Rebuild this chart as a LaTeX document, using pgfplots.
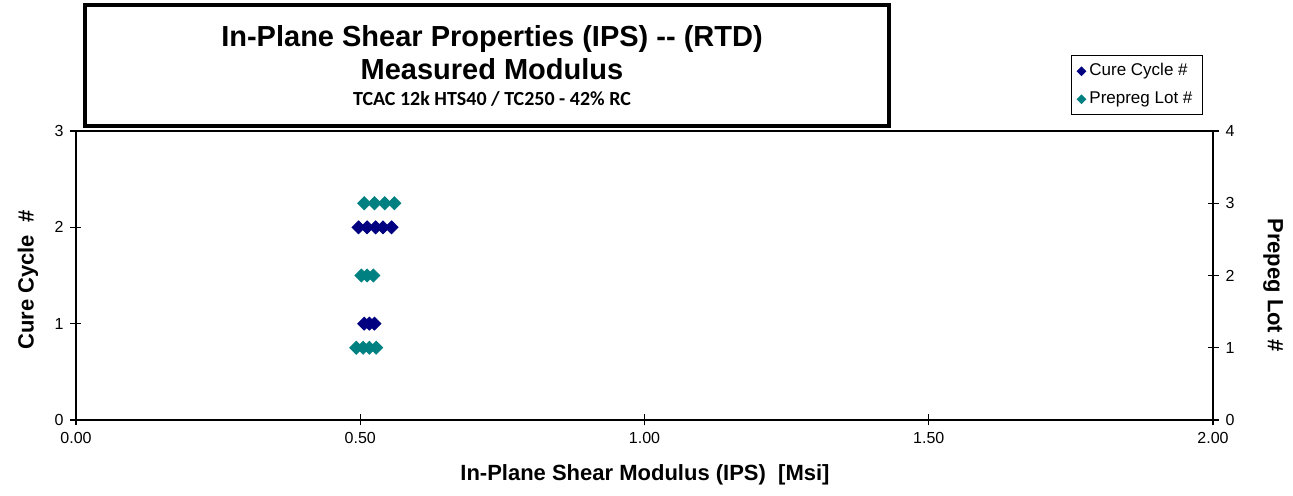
\documentclass[border=0pt]{standalone}
\usepackage{fontspec}
\setmainfont{Liberation Sans}
\newfontfamily\calibri{Carlito}
\usepackage{pgfplots}
\pgfplotsset{compat=1.18}
\definecolor{cure}{RGB}{0,0,128}
\definecolor{lot}{RGB}{0,128,128}

% values: modulus [Msi] vs cure cycle / prepreg lot
\pgfplotstableread{
x y
0.497 2
0.512 2
0.527 2
0.540 2
0.555 2
0.507 1
0.516 1
0.525 1
}\curetab
\pgfplotstableread{
x y
0.507 3
0.525 3
0.543 3
0.560 3
0.502 2
0.512 2
0.523 2
0.493 1
0.505 1
0.516 1
0.528 1
}\lottab

\begin{document}
\begin{tikzpicture}
\useasboundingbox (-38pt,-38pt) rectangle (608.5pt,210pt);
\pgfplotsset{
  common/.style={
    width=568.5pt, height=144.5pt, scale only axis,
    xmin=0, xmax=2,
    axis line style={-, line width=0.9pt},
    tick align=center, major tick length=5.5pt,
    tick style={black, line width=0.6pt},
    ticklabel style={font=\fontsize{8}{9.5}\selectfont},
    /pgf/number format/assume math mode=true,
    label style={font=\bfseries\fontsize{11}{13}\selectfont},
  },
}
\begin{axis}[common,
  ymin=0, ymax=3,
  axis x line*=bottom, axis y line*=left,
  xtick={0,0.5,1,1.5,2},
  ytick={0,1,2,3},
  xticklabel style={/pgf/number format/.cd, fixed, fixed zerofill, precision=2},
  xlabel={In-Plane Shear Modulus (IPS)\ \ [Msi]},
  ylabel={Cure Cycle\ \ \#},
  xlabel style={at={(axis description cs:0.5004,-0.19)}, anchor=center},
  ylabel style={at={(axis description cs:-0.0422,0.484)}, anchor=center},
  after end axis/.code={\draw[line width=0.6pt] (rel axis cs:0,1) -- (rel axis cs:1,1);},
]
\addplot[only marks, mark=square*, mark size=2.3pt,
  mark options={rotate=45, fill=cure, draw=cure}] table[x=x, y=y] {\curetab};
\end{axis}
\begin{axis}[common,
  ymin=0, ymax=4,
  axis y line*=right, axis x line=none,
  ytick={0,1,2,3,4},
  ylabel={Prepeg Lot \#},
  ylabel style={at={(axis description cs:1.0528,0.467)}, anchor=center, rotate=180},
  legend style={at={(axis description cs:0.875,1.263)}, anchor=north west,
    draw=black, line width=0.6pt, font=\fontsize{8.5}{10}\selectfont,
    inner xsep=3pt, inner ysep=2pt, row sep=2.5pt},
  legend cell align=left,
  legend image post style={mark size=1.4pt},
]
\addlegendimage{only marks, mark=square*, mark options={rotate=45, fill=cure, draw=cure}}
\addlegendentry{Cure Cycle \#}
\addplot[only marks, mark=square*, mark size=2.3pt,
  mark options={rotate=45, fill=lot, draw=lot}] table[x=x, y=y] {\lottab};
\addlegendentry{Prepreg Lot \#}
\end{axis}
% title box
\draw[line width=2pt] (4.5pt,147pt) rectangle (406.5pt,207.5pt);
\node[anchor=base, font=\bfseries\fontsize{14.5}{16}\selectfont] at (208pt,186.5pt)
  {In-Plane Shear Properties (IPS) -{}- (RTD)};
\node[anchor=base, font=\bfseries\fontsize{14.5}{16}\selectfont] at (208pt,170pt)
  {Measured Modulus};
\node[anchor=base, font=\calibri\bfseries\fontsize{10}{12}\selectfont] at (208pt,157pt)
  {TCAC 12k HTS40 / TC250 - 42\% RC};
\end{tikzpicture}
\end{document}
